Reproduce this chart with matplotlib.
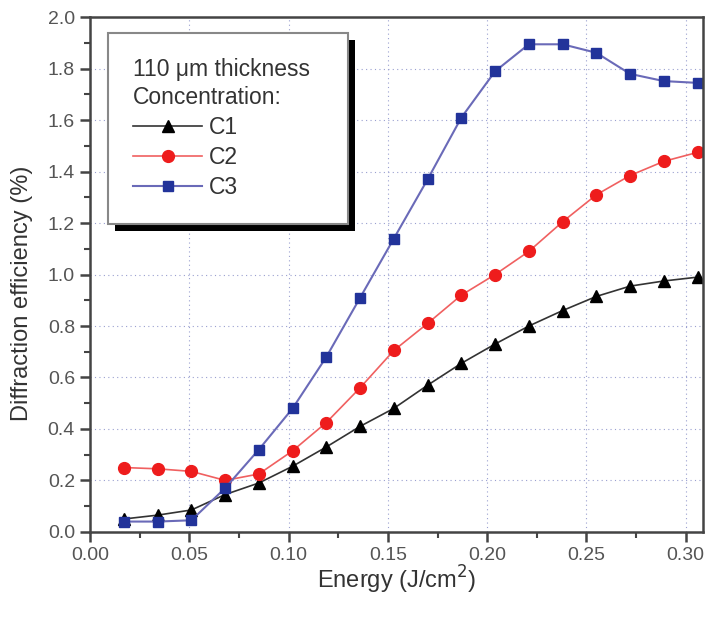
import matplotlib.pyplot as plt
from matplotlib.patches import Rectangle
from matplotlib.ticker import MultipleLocator
import numpy as np

plt.rcParams['font.family'] = ['Liberation Sans', 'DejaVu Sans']

# Data
energy = [0.017, 0.034, 0.051, 0.068, 0.085, 0.102, 0.119, 0.136, 0.153,
          0.170, 0.187, 0.204, 0.221, 0.238, 0.255, 0.272, 0.289, 0.306]
c1 = [0.05, 0.065, 0.085, 0.145, 0.19, 0.255, 0.33, 0.41, 0.48,
      0.57, 0.655, 0.73, 0.80, 0.86, 0.915, 0.955, 0.975, 0.99]
c2 = [0.25, 0.245, 0.235, 0.20, 0.225, 0.315, 0.425, 0.56, 0.705,
      0.81, 0.92, 1.0, 1.09, 1.205, 1.31, 1.385, 1.44, 1.475]
c3 = [0.04, 0.04, 0.045, 0.17, 0.32, 0.48, 0.68, 0.91, 1.14,
      1.37, 1.61, 1.79, 1.895, 1.895, 1.862, 1.78, 1.752, 1.745]

fig = plt.figure(figsize=(7.1, 6.17), dpi=100)
ax = fig.add_axes([0.127, 0.138, 0.863, 0.834])

ax.plot(energy, c1, color='#333333', lw=1.2, marker='^', ms=9,
        mfc='black', mec='black', label='C1')
ax.plot(energy, c2, color='#f06060', lw=1.2, marker='o', ms=8.5,
        mfc='#ee1c1c', mec='#ee1c1c', label='C2')
ax.plot(energy, c3, color='#6a6ab8', lw=1.5, marker='s', ms=7.5,
        mfc='#22339a', mec='#22339a', label='C3')

ax.set_xlim(0, 0.3087)
ax.set_ylim(0, 2.0)
ax.xaxis.set_major_locator(MultipleLocator(0.05))
ax.xaxis.set_minor_locator(MultipleLocator(0.025))
ax.yaxis.set_major_locator(MultipleLocator(0.2))
ax.yaxis.set_minor_locator(MultipleLocator(0.1))
ax.xaxis.set_major_formatter(plt.FuncFormatter(lambda v, p: f'{v:.2f}'))
ax.yaxis.set_major_formatter(plt.FuncFormatter(lambda v, p: f'{v:.1f}'))

ax.grid(True, which='major', linestyle=(0, (1, 3)), color='#9aa0d0', lw=0.8)
ax.set_axisbelow(True)

for s in ax.spines.values():
    s.set_color('#444444')
    s.set_linewidth(1.8)
ax.tick_params(which='major', direction='out', length=7, width=1.8,
               color='#444444', labelsize=14, labelcolor='#555555', pad=4)
ax.tick_params(which='minor', direction='out', length=4, width=1.5,
               color='#444444')

ax.set_xlabel('Energy (J/cm$^2$)', fontsize=17, color='#333333', labelpad=0)
ax.set_ylabel('Diffraction efficiency (%)', fontsize=17, color='#333333')
ax.yaxis.set_label_coords(-0.093, 0.464)

leg = ax.legend(title='110 \u03bcm thickness\nConcentration:', loc='upper left',
                bbox_to_anchor=(0.029, 0.5, 0.3915, 0.469), mode='expand',
                borderaxespad=0, fontsize=16.5, title_fontsize=16.5,
                frameon=True, fancybox=False, edgecolor='#888888',
                facecolor='white', framealpha=1,
                handlelength=3.0, handletextpad=0.3, borderpad=1.1,
                labelspacing=0.3, alignment='left')
leg.get_frame().set_linewidth(1.5)
leg.get_title().set_color('#333333')
leg.get_title().set_linespacing(1.25)
for t in leg.get_texts():
    t.set_color('#333333')
leg.set_zorder(5)

fig.canvas.draw()
bb = leg.get_window_extent().transformed(ax.transAxes.inverted())
dx = 7 / (ax.bbox.width)
dy = 7 / (ax.bbox.height)
ax.add_patch(Rectangle((bb.x0 + dx, bb.y0 - dy), bb.width, bb.height,
                       transform=ax.transAxes, facecolor='black',
                       edgecolor='none', zorder=4))

fig.savefig('out.png', dpi=100)
